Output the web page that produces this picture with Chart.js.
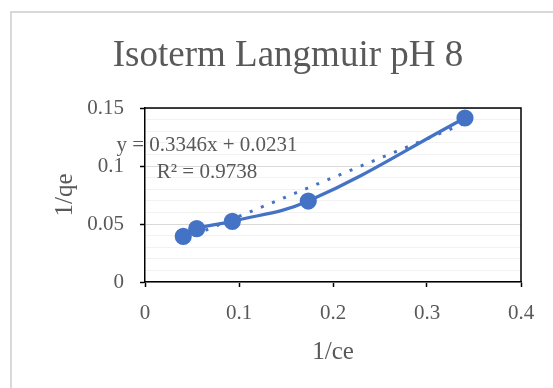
<!DOCTYPE html>
<html>
<head>
<meta charset="utf-8">
<script src="https://cdn.jsdelivr.net/npm/chart.js@4"></script>
<style>
  html, body { margin: 0; padding: 0; background: #fff; }
  #wrap { position: relative; width: 553px; height: 388px; overflow: hidden; }
  #frame { position: absolute; left: 10px; top: 11px; width: 600px; height: 400px;
           border-left: 2px solid #d9d9d9; border-top: 2px solid #d9d9d9; }
  canvas { position: absolute; left: 0; top: 0; }
</style>
</head>
<body>
<div id="wrap">
  <div id="frame"></div>
  <canvas id="isotherm" width="553" height="388"></canvas>
</div>
<script>
// Langmuir linearisation at pH 8: 1/qe against 1/ce
const invCe = [0.0407, 0.055, 0.0929, 0.1737, 0.3404];
const invQe = [0.0394, 0.046, 0.0523, 0.0698, 0.1414];

// fitted trendline y = a x + b
const slope = 0.3346;
const intercept = 0.0231;
const rSquared = 0.9738;

const xTickValues = [0, 0.1, 0.2, 0.3, 0.4];
const yTickValues = [0, 0.05, 0.1, 0.15];
const yMinorStep = 0.01;

const blue = '#4472C4';
const grey = '#595959';
const serif = '"Liberation Serif", "Times New Roman", serif';

const points = invCe.map((x, i) => ({ x: x, y: invQe[i] }));
const xFirst = invCe[0], xLast = invCe[invCe.length - 1];
const trend = [
   { x: xFirst, y: slope * xFirst + intercept },
   { x: xLast, y: slope * xLast + intercept }
];

function isMajor(v) {
   return yTickValues.some(t => Math.abs(t - v) < 1e-9);
}

// top and right edges of the plot box
const plotFrame = {
   id: 'plotFrame',
   afterDatasetsDraw(chart) {
       const { ctx, chartArea: a } = chart;
       ctx.save();
       ctx.strokeStyle = '#000';
       ctx.lineWidth = 1.5;
       ctx.beginPath();
       ctx.moveTo(a.left, a.top);
       ctx.lineTo(a.right, a.top);
       ctx.lineTo(a.right, a.bottom);
       ctx.stroke();
       ctx.restore();
   }
};

// trendline equation and R² label
const trendLabel = {
   id: 'trendLabel',
   afterDatasetsDraw(chart) {
       const { ctx, chartArea: a } = chart;
       ctx.save();
       ctx.fillStyle = grey;
       ctx.font = '21px ' + serif;
       ctx.textAlign = 'center';
       ctx.textBaseline = 'middle';
       const cx = a.left + 62;
       ctx.fillText('y = ' + slope.toFixed(4) + 'x + ' + intercept.toFixed(4), cx, a.top + 37);
       ctx.fillText('R² = ' + rSquared.toFixed(4), cx, a.top + 64);
       ctx.restore();
   }
};

window.onload = () => {
   const ctx = document.getElementById('isotherm').getContext('2d');
   new Chart(ctx, {
       type: 'scatter',
       data: {
           datasets: [{
               label: '1/qe',
               data: points,
               showLine: true,
               tension: 0.4,
               borderColor: blue,
               borderWidth: 3.2,
               backgroundColor: blue,
               pointRadius: 7,
               pointHoverRadius: 7,
               order: 0
           }, {
               label: 'Linear (1/qe)',
               data: trend,
               showLine: true,
               borderColor: blue,
               borderWidth: 3,
               borderDash: [3, 9],
               pointRadius: 0,
               order: 1
           }]
       },
       options: {
           responsive: false,
           animation: false,
           events: [],
           layout: { padding: { left: 23, right: 0, top: 0, bottom: 0 } },
           plugins: {
               legend: { display: false },
               tooltip: { enabled: false },
               title: {
                   display: true,
                   text: 'Isoterm Langmuir pH 8',
                   color: grey,
                   font: { family: serif, size: 37, weight: 'normal', lineHeight: 1.2 },
                   padding: { top: 34, bottom: 29.6 }
               }
           },
           scales: {
               x: {
                   type: 'linear',
                   min: 0,
                   max: 0.4,
                   afterBuildTicks: scale => { scale.ticks = xTickValues.map(v => ({ value: v })); },
                   afterFit: scale => { scale.height = 106; },
                   border: { color: '#000', width: 1.5 },
                   grid: { drawOnChartArea: false, drawTicks: true, tickLength: 5, tickColor: '#000', tickWidth: 1.5 },
                   ticks: {
                       color: grey,
                       font: { family: serif, size: 21 },
                       padding: 13.5,
                       maxRotation: 0,
                       autoSkip: false,
                       callback: v => String(+v.toFixed(2))
                   },
                   title: {
                       display: true,
                       text: '1/ce',
                       color: grey,
                       font: { family: serif, size: 25 },
                       padding: { top: 0, bottom: 21 }
                   }
               },
               y: {
                   type: 'linear',
                   min: 0,
                   max: 0.15,
                   afterBuildTicks: scale => {
                       const ticks = [];
                       const n = Math.round(0.15 / yMinorStep);
                       for (let i = 0; i <= n; i++) ticks.push({ value: +(i * yMinorStep).toFixed(2) });
                       scale.ticks = ticks;
                   },
                   afterFit: scale => { scale.width = 122; },
                   border: { color: '#000', width: 1.5 },
                   grid: {
                       drawTicks: true,
                       tickLength: 5,
                       color: c => isMajor(c.tick.value) ? '#d9d9d9' : '#f2f2f2',
                       tickColor: c => isMajor(c.tick.value) ? '#000' : 'rgba(0,0,0,0)',
                       tickWidth: 1.5
                   },
                   ticks: {
                       color: grey,
                       font: { family: serif, size: 21 },
                       padding: 16,
                       autoSkip: false,
                       callback: v => isMajor(v) ? String(+v.toFixed(2)) : ''
                   },
                   title: {
                       display: true,
                       text: '1/qe',
                       color: grey,
                       font: { family: serif, size: 25 },
                       padding: { top: 27, bottom: 0 }
                   }
               },
               // blank strip on the right so the plot ends short of the edge
               yRight: {
                   type: 'linear',
                   position: 'right',
                   min: 0,
                   max: 0.15,
                   afterFit: scale => { scale.width = 32; },
                   border: { display: false },
                   grid: { display: false },
                   ticks: { display: false }
               }
           }
       },
       plugins: [plotFrame, trendLabel]
   });
};
</script>
</body>
</html>
